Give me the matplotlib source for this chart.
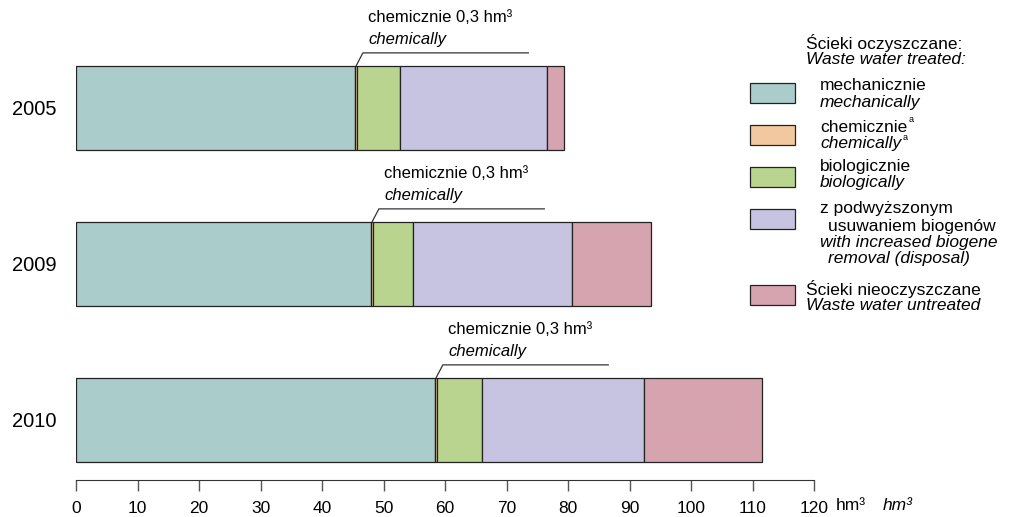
import matplotlib.pyplot as plt
from matplotlib.patches import Rectangle

plt.rcParams['font.family'] = ['Liberation Sans', 'DejaVu Sans']

# data (hm3)
years = ["2005", "2009", "2010"]
mechanical = [45.4, 48.0, 58.4]
chemical = [0.3, 0.3, 0.3]
biological = [7.0, 6.5, 7.3]
biogene_removal = [23.9, 25.9, 26.4]
untreated = [2.7, 12.8, 19.1]

colors = ["#aacccb", "#f1c89f", "#b9d48f", "#c7c4e1", "#d5a4af"]
series = [mechanical, chemical, biological, biogene_removal, untreated]

W, H = 1015, 517
fig = plt.figure(figsize=(W / 100, H / 100), dpi=100)
ax = fig.add_axes([76 / W, 37 / H, 738 / W, 480 / H])

ypos = [0, 1, 2]
bar_h = 0.54
left = [0, 0, 0]
for vals, c in zip(series, colors):
    ax.barh(ypos, vals, left=left, height=bar_h, color=c,
            edgecolor="#222222", linewidth=0.9)
    left = [l + v for l, v in zip(left, vals)]

ax.set_xlim(0, 120)
ax.set_ylim(2.385, -0.692)
ax.set_xticks(range(0, 121, 10))
ax.set_yticks(ypos)
ax.set_yticklabels(years, fontsize=14.5)
ax.tick_params(axis="y", length=0, pad=14)
ax.tick_params(axis="x", length=8, width=1, color="#555555", labelsize=12.5, pad=7)
for s in ["top", "right", "left"]:
    ax.spines[s].set_visible(False)
ax.spines["bottom"].set_color("#333333")

# axis unit
ax.text(1.03, -0.037, "hm³", transform=ax.transAxes, fontsize=12.5,
        ha="left", va="top")
ax.text(1.093, -0.037, "hm³", transform=ax.transAxes, fontsize=12.5,
        style="italic", ha="left", va="top")

# annotations for the chemical segment
for i in range(3):
    cx = mechanical[i] + chemical[i] / 2
    top = ypos[i] - bar_h / 2
    ly = ypos[i] - 0.353
    ax.plot([cx, cx + 1.1, cx + 28], [top, ly, ly], color="#333333",
            linewidth=0.9, clip_on=False)
    ax.text(cx + 2.0, ypos[i] - 0.577, "chemicznie 0,3 hm³", fontsize=12,
            ha="left", va="center")
    ax.text(cx + 2.0, ypos[i] - 0.436, "chemically", fontsize=12,
            style="italic", ha="left", va="center")


# legend drawn in pixel positions
def ftext(x, y, s, **kw):
    return fig.text(x / W, 1 - y / H, s, fontsize=12.5, ha="left",
                    va="center", **kw)


def fpatch(y, c):
    fig.patches.append(Rectangle((750 / W, 1 - (y + 10) / H), 45 / W, 20 / H,
                                 transform=fig.transFigure, facecolor=c,
                                 edgecolor="#222222", linewidth=0.9))


renderer = fig.canvas.get_renderer()


def sup(t, y, s):
    bb = t.get_window_extent(renderer=renderer)
    fig.text(bb.x1 / W + 1.0 / W, 1 - y / H, s, fontsize=6.5, ha="left",
             va="center")


ftext(806, 43, "Ścieki oczyszczane:")
ftext(806, 59, "Waste water treated:", style="italic")

fpatch(93, colors[0])
ftext(820, 86, "mechanicznie")
ftext(820, 102, "mechanically", style="italic")

fpatch(135, colors[1])
t1 = ftext(820, 127, "chemicznie")
t2 = ftext(820, 143, "chemically", style="italic")
sup(t1, 119, "a")
sup(t2, 137, "a")

fpatch(177, colors[2])
ftext(820, 167, "biologicznie")
ftext(820, 183, "biologically", style="italic")

fpatch(219, colors[3])
ftext(820, 209, "z podwyższonym")
ftext(828, 226, "usuwaniem biogenów")
ftext(820, 242, "with increased biogene", style="italic")
ftext(828, 258, "removal (disposal)", style="italic")

fpatch(295, colors[4])
ftext(806, 289, "Ścieki nieoczyszczane")
ftext(806, 305, "Waste water untreated", style="italic")

fig.savefig("out.png", dpi=100)
